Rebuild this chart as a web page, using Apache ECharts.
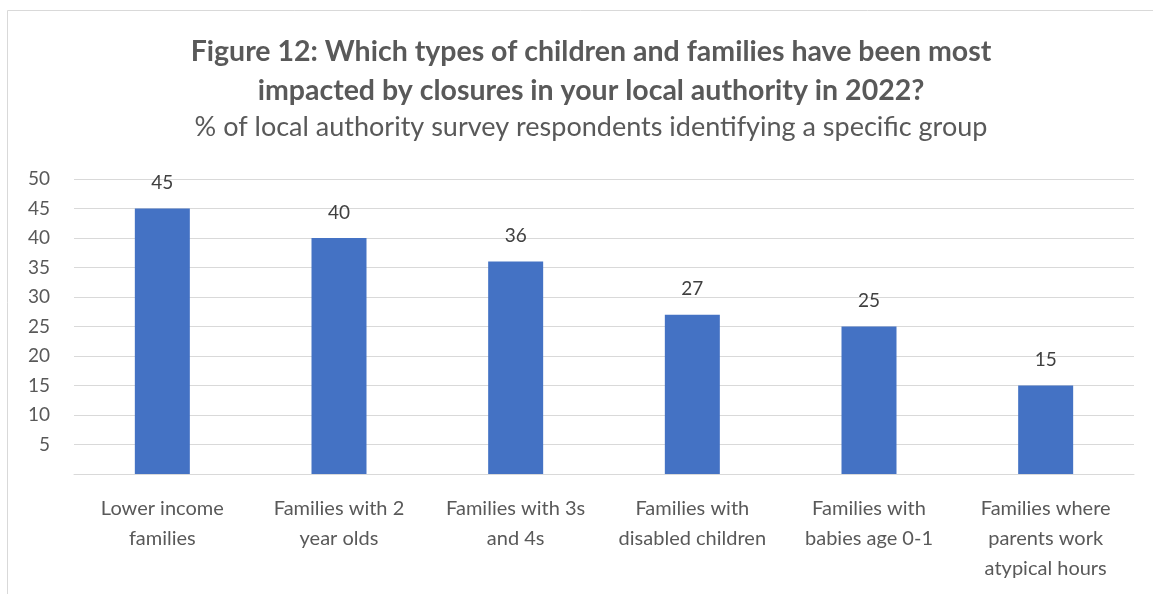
<!DOCTYPE html>
<html><head><meta charset="utf-8">
<script src="https://cdn.jsdelivr.net/npm/echarts@6/dist/echarts.min.js"></script>
<style>html,body{margin:0;padding:0;background:#fff}#c{width:1153px;height:594px}</style>
</head><body><div id="c"></div>
<script>
const titleLines = ["Figure 12: Which types of children and families have been most", "impacted by closures in your local authority in 2022?"];
const subtitle = "% of local authority survey respondents identifying a specific group";
const categories = ["Lower income\nfamilies", "Families with 2\nyear olds", "Families with 3s\nand 4s", "Families with\ndisabled children", "Families with\nbabies age 0-1", "Families where\nparents work\natypical hours"];
const values = [45, 40, 36, 27, 25, 15];
const yMin = 0, yMax = 50, yStep = 5;

const FONT = "Lato";
const chart = echarts.init(document.getElementById('c'));
chart.setOption({
  animation: false,
  textStyle: {fontFamily: FONT},
  graphic: [{type: 'rect', shape: {x: 7.5, y: 10.5, width: 1160, height: 600}, style: {fill: 'none', stroke: '#d9d9d9', lineWidth: 1}, silent: true}],
  title: [
    {text: titleLines.join("\n"), left: 586, top: 27, textAlign: 'center',
     textStyle: {fontFamily: FONT, fontSize: 28.5, fontWeight: 'bold', color: '#595959', lineHeight: 39}},
    {text: subtitle, left: 586, top: 109, textAlign: 'center',
     textStyle: {fontFamily: FONT, fontSize: 27, fontWeight: 'normal', color: '#595959'}}
  ],
  grid: {left: 74, right: 19, top: 179, bottom: 120, containLabel: false},
  xAxis: {
    type: 'category', data: categories,
    axisLine: {show: true, lineStyle: {color: '#d9d9d9', width: 1}},
    axisTick: {show: false},
    axisLabel: {color: '#595959', fontSize: 20, lineHeight: 30, margin: 20, interval: 0, fontFamily: FONT}
  },
  yAxis: {
    type: 'value', min: yMin, max: yMax, interval: yStep,
    axisLine: {show: false}, axisTick: {show: false},
    splitLine: {lineStyle: {color: '#d9d9d9', width: 1}},
    axisLabel: {color: '#595959', fontSize: 19, margin: 24, fontFamily: FONT,
      formatter: v => v === 0 ? '' : String(v)}
  },
  series: [{
    type: 'bar', data: values, barWidth: 55,
    itemStyle: {color: '#4472c4'},
    label: {show: true, position: 'top', distance: 16, color: '#404040', fontSize: 19, fontFamily: FONT}
  }]
});
</script></body></html>
